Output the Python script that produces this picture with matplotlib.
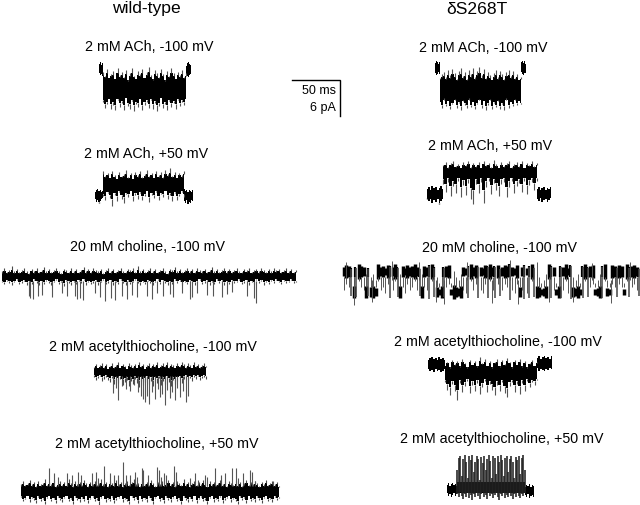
import numpy as np
import matplotlib
matplotlib.use('Agg')
import matplotlib.pyplot as plt

plt.rcParams['font.family'] = ['Liberation Sans', 'DejaVu Sans']

titles = ['wild-type', 'δS268T']
labels_wt = ['2 mM ACh, -100 mV', '2 mM ACh, +50 mV', '20 mM choline, -100 mV',
             '2 mM acetylthiocholine, -100 mV', '2 mM acetylthiocholine, +50 mV']
labels_mut = labels_wt
scale_labels = ['50 ms', '6 pA']

# wild-type, 2 mM ACh, -100 mV
wt1_fl_top = [64, 62, 65, 63, 64]
wt1_fl_bot = [73, 75, 74, 76, 74]
wt1_fr_top = [66, 63, 62, 64, 65, 66]
wt1_fr_bot = [74, 76, 77, 75, 74, 73]
wt1_top = [72, 76, 69, 78, 74, 71, 79, 68, 75, 72, 77, 70, 81, 73, 68, 76, 79, 71, 74, 69,
           78, 72, 67, 75, 80, 70, 73, 77, 69, 74, 81, 71, 76, 68, 73, 79, 72, 75, 70, 77, 73]
wt1_bot = [102, 108, 104, 99, 109, 105, 110, 100, 107, 103, 110, 98, 106, 109, 101, 111, 104, 107, 99, 110,
           105, 102, 108, 100, 109, 103, 111, 106, 98, 108, 104, 110, 101, 107, 103, 109, 100, 106, 102, 105, 99]
# wild-type, 2 mM ACh, +50 mV
wt2_fl_top = [192, 190, 189, 191, 190, 192, 191]
wt2_fl_bot = [199, 202, 200, 203, 201, 199, 198]
wt2_fr_top = [189, 191, 190, 192, 190, 191, 192, 190]
wt2_fr_bot = [201, 203, 200, 204, 202, 203, 200, 201]
wt2_top = [171, 176, 173, 178, 171, 175, 179, 172, 176, 174, 170, 177, 173, 179, 172, 175, 171, 177, 174, 170,
           176, 173, 178, 171, 175, 172, 177, 170, 174, 168, 176, 172, 178, 173, 175, 171]
wt2_bot = [196, 200, 193, 198, 206, 195, 201, 192, 199, 203, 194, 197, 191, 201, 195, 199, 193, 200, 196, 191,
           202, 195, 198, 192, 200, 194, 197, 191, 199, 195, 201, 193, 200, 196, 192, 197]
# wild-type, 20 mM choline, -100 mV
wt3_top = [271, 268, 272, 270, 266, 271, 269, 272, 270, 268, 271, 273, 269, 271, 268, 272, 270, 267, 271, 269,
           272, 270, 268, 271, 273, 269, 270, 272, 268, 271, 269, 272, 270, 267, 271, 269, 272, 268, 270, 271,
           269, 273, 270, 268, 271, 269, 272, 270, 268, 271, 272, 269, 270, 268, 272, 266, 271, 269, 272, 270,
           268, 271, 269, 272, 270, 268, 271, 273, 269, 270, 267, 271, 269, 272, 270, 268, 271, 269, 272, 268,
           270, 271, 269, 272, 270, 267, 271, 269, 272, 270, 268, 271, 269, 272, 270, 268, 271, 272, 269, 270,
           268, 272, 270, 269, 271, 268, 270, 272, 269, 271, 268, 270, 269, 272, 270, 268, 271, 269, 272, 270]
wt3_bot = [282, 284, 281, 283, 285, 282, 280, 284, 283, 281, 285, 282, 284, 280, 283, 285, 282, 284, 281, 283,
           285, 282, 280, 284, 282, 286, 281, 283, 285, 282, 284, 281, 283, 280, 285, 282, 284, 283, 281, 285,
           282, 280, 284, 283, 281, 285, 282, 284, 280, 283, 285, 281, 284, 282, 280, 283, 285, 282, 284, 281,
           283, 285, 282, 280, 284, 281, 283, 285, 282, 284, 280, 283, 281, 285, 282, 284, 281, 283, 285, 282,
           280, 284, 283, 281, 285, 282, 284, 280, 283, 281, 285, 282, 284, 281, 283, 282, 280, 284, 283, 281,
           285, 282, 284, 280, 283, 281, 285, 282, 284, 281, 283, 280, 282, 284, 281, 283, 282, 280, 283, 282]
wt3_spike_x = [29, 30, 33, 38, 42, 52, 62, 67, 75, 77, 80, 83, 95, 100, 105, 111, 115, 122, 127, 132, 137,
               147, 152, 157, 163, 170, 173, 182, 190, 192, 197, 207, 213, 222, 227, 232, 247, 254, 256]
wt3_spike_y = [296, 298, 299, 296, 295, 297, 293, 296, 296, 299, 298, 300, 293, 297, 301, 298, 300, 296, 299, 295, 297,
               296, 299, 293, 296, 294, 297, 293, 299, 297, 293, 295, 296, 297, 294, 292, 296, 298, 303]
# wild-type, 2 mM acetylthiocholine, -100 mV
wt4_top = [367, 364, 368, 365, 363, 367, 364, 369, 366, 363, 367, 365, 362, 368, 364, 366, 369, 363, 365, 367,
           364, 368, 362, 366, 364, 369, 365, 363, 367, 364, 366, 362, 368, 365, 363, 366, 362, 367, 364, 365,
           368, 363, 366, 362, 364, 367, 363, 365, 368, 362, 366, 364, 367, 365, 363, 366]
wt4_bot = [377, 380, 378, 376, 381, 379, 377, 380, 382, 378, 384, 380, 383, 379, 385, 382, 380, 386, 381, 384,
           379, 383, 387, 381, 385, 382, 379, 384, 381, 386, 380, 383, 378, 385, 381, 384, 379, 382, 386, 380,
           384, 381, 378, 383, 379, 376, 380, 378, 381, 377, 379, 376, 380, 378, 377, 379]
wt4_spike_x = [113, 116, 118, 122, 126, 130, 134, 138, 141, 143, 145, 147, 149, 152, 155, 158, 160, 162,
               165, 167, 170, 172, 175, 177, 180, 183, 186, 188]
wt4_spike_y = [393, 388, 400, 386, 389, 391, 385, 392, 396, 399, 402, 396, 404, 392, 399, 389, 397, 394,
               405, 390, 398, 392, 400, 388, 397, 391, 402, 396]
# wild-type, 2 mM acetylthiocholine, +50 mV
wt5_top = [484, 481, 485, 483, 480, 484, 482, 486, 481, 484, 483, 479, 485, 482, 484, 480, 486, 483, 481, 485,
           482, 484, 479, 483, 486, 481, 484, 482, 485, 480, 483, 486, 482, 484, 481, 485, 483, 479, 484, 482,
           486, 481, 483, 485, 480, 484, 482, 486, 483, 481, 485, 482, 479, 484, 483, 486, 481, 484, 482, 485,
           480, 483, 486, 482, 484, 481, 485, 483, 480, 484, 482, 486, 481, 483, 485, 479, 484, 482, 486, 483,
           481, 485, 482, 484, 480, 483, 486, 481, 484, 482, 485, 483, 480, 484, 482, 486, 481, 483, 485, 481,
           484, 482, 486, 483, 480, 485, 482, 484, 481, 483, 486, 482, 484, 480, 485, 483, 481, 484, 482, 486]
wt5_bot = [497, 501, 499, 496, 502, 498, 500, 503, 497, 501, 499, 504, 498, 496, 501, 499, 503, 497, 500, 502,
           498, 496, 501, 499, 504, 497, 500, 502, 498, 501, 496, 503, 499, 497, 501, 500, 505, 498, 496, 502,
           499, 501, 497, 503, 500, 498, 496, 502, 499, 501, 504, 497, 500, 498, 503, 496, 501, 499, 502, 497,
           500, 504, 498, 496, 501, 499, 503, 497, 500, 502, 498, 496, 501, 499, 504, 497, 500, 502, 498, 501,
           496, 503, 499, 497, 501, 500, 504, 498, 496, 502, 499, 501, 497, 503, 500, 498, 496, 502, 499, 501,
           504, 497, 500, 498, 503, 496, 501, 499, 502, 497, 500, 503, 498, 496, 501, 499, 502, 497, 500, 498]
wt5_spike_x = [49, 54, 58, 67, 72, 78, 81, 92, 96, 98, 104, 110, 114, 118, 123, 126, 130, 135, 137, 142, 143, 148,
               157, 159, 161, 164, 166, 174, 176, 190, 195, 198, 205, 207, 215, 221, 225, 232, 236, 238, 243, 250, 252, 255, 273]
wt5_spike_y = [468, 473, 477, 473, 475, 472, 475, 473, 472, 478, 466, 473, 475, 475, 462, 475, 475, 472, 477, 468, 470, 475,
               467, 470, 477, 473, 475, 466, 472, 478, 473, 480, 475, 477, 468, 475, 473, 468, 468, 478, 473, 470, 472, 481, 481]

# dS268T, 2 mM ACh, -100 mV
mut1_fl_top = [63, 61, 62, 64, 62]
mut1_fl_bot = [73, 75, 74, 72, 74]
mut1_fr_top = [62, 61, 63, 61, 64]
mut1_fr_bot = [72, 74, 75, 73, 73]
mut1_top = [78, 74, 72, 77, 70, 75, 69, 73, 79, 71, 68, 76, 72, 79, 70, 74, 68, 77, 71, 67,
            75, 69, 78, 72, 75, 80, 73, 70, 77, 71, 74, 79, 72, 70, 76, 71, 78, 74, 80, 77]
mut1_bot = [102, 108, 98, 106, 101, 109, 104, 99, 108, 103, 110, 100, 105, 108, 98, 107, 102, 109, 104, 99,
            108, 101, 110, 105, 99, 109, 103, 107, 100, 109, 104, 110, 98, 108, 102, 106, 99, 105, 101, 104]
# dS268T, 2 mM ACh, +50 mV
mut2_fl_top = [189, 187, 190, 186, 188, 187, 190, 188, 186, 189]
mut2_fl_bot = [198, 201, 199, 203, 200, 202, 199, 204, 201, 199]
mut2_fr_top = [189, 187, 190, 188, 187, 190, 188, 189, 187]
mut2_fr_bot = [199, 201, 198, 202, 200, 199, 202, 200, 198]
mut2_top = [165, 162, 167, 163, 161, 166, 164, 168, 162, 165, 161, 167, 163, 166, 162, 168, 161, 165, 163, 167,
            160, 164, 168, 162, 166, 163, 161, 167, 164, 162, 166, 161, 168, 163, 165, 161, 166, 163]
mut2_bot = [184, 192, 182, 196, 186, 193, 181, 197, 185, 195, 183, 199, 204, 184, 193, 182, 203, 187, 181, 194,
            183, 190, 196, 184, 182, 197, 187, 181, 193, 186, 183, 192, 181, 194, 185, 182, 190, 181]
# dS268T, 20 mM choline, -100 mV: O open level, C closed level, T brief opening/closure
mut3_states = list('OOOTCTOOOCTCCCOOOOOTOOTCOOOOOOOTCOOTOTCCCTOOCCCCCOOTOOOTOOOTOOTOTOOOTOOOCOTOTO'
                   'TCCCCCOTOCCTOOOTCCCCTOTOOCCCTOCCOOTOOCOTOOOT')
mut3_jit = [1, -1, 0, 2, -1, 1, -2, 0, 1, -1, 2, 0, -1, 1, -2, 1, 0, 2, -1, 0, 1, -2, 1, -1, 0, 2, -1, 1, 0, -2,
            1, 2, -1, 0, 1, -1, -2, 1, 0, 2, -1, 1, 0, -1, 2, -2, 0, 1, -1, 1, 2, 0, -2, 1, -1, 0, 1, 2, -1, 0,
            -2, 1, 0, -1, 2, 1, -1, 0, -2, 1, 2, -1, 0, 1, -1, 2, 0, -2, 1, -1, 0, 2, 1, -1, -2, 0, 1, 2, -1, 0,
            1, -2, 2, -1, 0, 1, -1, 2, 0, -2, 1, 0, -1, 2, 1, -1, 0, -2, 1, 2, -1, 0, 1, -1, 0, 2, -2, 1, 0, -1,
            1, 2, -1, 0]
mut3_open = [266, 277]
mut3_closed = [287, 297]
mut3_trans = [267, 298]
mut3_tip_x = [346, 354, 372, 392, 419, 436, 444, 467, 492, 510, 518, 537, 549, 573, 592, 611, 630]
mut3_tip_y = [262, 305, 302, 261, 262, 302, 304, 262, 303, 260, 304, 262, 302, 302, 263, 303, 262]
# dS268T, 2 mM acetylthiocholine, -100 mV
mut4_fl_top = [360, 358, 357, 359, 358, 360, 357, 359, 358, 360]
mut4_fl_bot = [369, 371, 370, 372, 369, 371, 370, 372, 371, 369]
mut4_fr_top = [358, 356, 359, 357, 356, 358, 357, 359, 356]
mut4_fr_bot = [368, 371, 369, 370, 371, 369, 370, 368, 369]
mut4_top = [366, 362, 368, 360, 364, 361, 367, 359, 363, 368, 360, 365, 361, 367, 357, 363, 359, 366, 361, 368,
            362, 359, 367, 360, 364, 358, 362, 368, 360, 365, 359, 367, 361, 368, 363, 360, 366, 362]
mut4_bot = [382, 390, 395, 384, 391, 400, 383, 392, 386, 381, 393, 385, 391, 383, 394, 387, 381, 392, 384, 390,
            395, 385, 391, 382, 393, 397, 386, 382, 392, 384, 394, 383, 391, 381, 387, 382, 385, 380]
# dS268T, 2 mM acetylthiocholine, +50 mV
mut5_base_top = [485, 483, 486, 484, 483, 485, 484, 486]
mut5_base_bot = [493, 496, 494, 497, 495, 493, 496, 494]
mut5_end_top = [487, 485, 486, 484, 487, 485, 486]
mut5_end_bot = [495, 497, 494, 498, 496, 495, 497]
mut5_top = [470, 458, 456, 476, 459, 455, 462, 478, 456, 460, 455, 472, 462, 456, 459, 480, 457, 463, 456, 470,
            459, 455, 461, 478, 456, 458, 474, 456, 462, 455, 460, 476, 458, 456, 472, 459, 456, 462, 478, 457,
            460, 456, 474, 458, 455, 470]
mut5_bot = [494, 497, 492, 496, 499, 494, 497, 493, 498, 495, 500, 494, 497, 493, 496, 499, 494, 492, 497, 495,
            499, 493, 496, 494, 498, 495, 493, 497, 500, 494, 496, 493, 498, 495, 497, 493, 496, 499, 494, 497,
            493, 496, 498, 494, 496, 493]

fig = plt.figure(figsize=(6.4, 5.05), dpi=100)
ax = fig.add_axes([0, 0, 1, 1])
ax.set_xlim(0, 640)
ax.set_ylim(505, 0)
ax.axis('off')


def band(x0, x1, core_top, core_bot, tops, bots, lw=0.8, col='#4a4a4a', mix=0.55):
    # solid middle of the trace with a torn edge, thin grey tips beyond it
    tops = np.array(tops, dtype=float)
    bots = np.array(bots, dtype=float)
    xt = np.linspace(x0, x1, len(tops))
    xb = np.linspace(x0, x1, len(bots))
    edge_t = core_top + (tops - tops.mean()) * mix
    edge_b = core_bot + (bots - bots.mean()) * mix
    ax.fill_between(xt, edge_t, (core_top + core_bot) / 2, color='black', lw=0, step='mid')
    ax.fill_between(xb, (core_top + core_bot) / 2, edge_b, color='black', lw=0, step='mid')
    ax.vlines(xt, tops, edge_t, color=col, lw=lw)
    ax.vlines(xb, edge_b, bots, color=col, lw=lw)


def flank(x0, x1, tops, bots):
    band(x0, x1, np.mean(tops), np.mean(bots), tops, bots, lw=1.0, col='#222222', mix=0.8)


# wild-type traces
flank(99, 103, wt1_fl_top, wt1_fl_bot)
band(103, 186, 76, 102, wt1_top, wt1_bot, col='#555555')
flank(186, 191, wt1_fr_top, wt1_fr_bot)

flank(95, 103, wt2_fl_top, wt2_fl_bot)
band(103, 184, 176, 194, wt2_top, wt2_bot, col='#555555')
flank(184, 193, wt2_fr_top, wt2_fr_bot)

band(2, 296, 272, 281, wt3_top, wt3_bot, mix=0.6)
ax.vlines(wt3_spike_x, 281, wt3_spike_y, color='#555555', lw=0.8)

band(94, 206, 367, 377, wt4_top, wt4_bot, mix=0.5)
ax.vlines(wt4_spike_x, 376, wt4_spike_y, color='#555555', lw=0.8)

band(21, 279, 485, 498, wt5_top, wt5_bot, mix=0.6)
ax.vlines(wt5_spike_x, 486, wt5_spike_y, color='#555555', lw=0.8)

# dS268T traces
flank(435, 440, mut1_fl_top, mut1_fl_bot)
band(440, 521, 77, 103, mut1_top, mut1_bot, col='#555555')
flank(521, 526, mut1_fr_top, mut1_fr_bot)

flank(427, 443, mut2_fl_top, mut2_fl_bot)
band(443, 537, 166, 182, mut2_top, mut2_bot, col='#555555')
flank(537, 551, mut2_fr_top, mut2_fr_bot)

xs3 = np.linspace(344, 639, len(mut3_states))
for x, s, j in zip(xs3, mut3_states, mut3_jit):
    if s == 'O':
        ax.vlines(x, mut3_open[0] + j, mut3_open[1] - j, color='black', lw=2.5)
        ax.vlines(x, mut3_open[1], mut3_closed[0] + 3 * j, color='#555555', lw=0.7)
    elif s == 'C':
        ax.vlines(x, mut3_closed[0] + j, mut3_closed[1] - j, color='black', lw=2.5)
        ax.vlines(x, mut3_closed[0], mut3_open[1] + 3 * j, color='#555555', lw=0.7)
    else:
        ax.vlines(x - 0.7, mut3_open[0] + j, mut3_open[1], color='black', lw=1.6)
        ax.vlines(x, mut3_trans[0] + j, mut3_trans[1] - j, color='#444444', lw=1.1)
ax.vlines(mut3_tip_x, 280, mut3_tip_y, color='#555555', lw=0.7)

flank(428, 445, mut4_fl_top, mut4_fl_bot)
band(445, 537, 364, 383, mut4_top, mut4_bot, col='#555555')
flank(537, 552, mut4_fr_top, mut4_fr_bot)

flank(447, 457, mut5_base_top, mut5_base_bot)
flank(525, 534, mut5_end_top, mut5_end_bot)
ax.fill_between([457, 525], 482, 493, color='black', lw=0)
xs5 = np.linspace(457, 525, len(mut5_top))
ax.vlines(xs5, mut5_top, mut5_bot, color='#222222', lw=1.15)

# scale bar
ax.plot([292, 340, 340], [80, 80, 116], color='black', lw=1.0, solid_joinstyle='miter')
ax.text(336, 91, scale_labels[0], ha='right', va='center', fontsize=9)
ax.text(336, 108, scale_labels[1], ha='right', va='center', fontsize=9)

# titles and labels
ax.text(146, 9, titles[0], ha='center', va='center', fontsize=12.6)
ax.text(477, 9, titles[1], ha='center', va='center', fontsize=12.6)
for lab, x, y in zip(labels_wt, [149, 146, 147.5, 152.5, 156.5], [47, 154, 247, 347, 444]):
    ax.text(x, y, lab, ha='center', va='center', fontsize=10.3)
for lab, x, y in zip(labels_mut, [483, 490, 499, 497.5, 502], [48, 146, 248, 342, 439]):
    ax.text(x, y, lab, ha='center', va='center', fontsize=10.3)

fig.savefig('out.png', dpi=100)
